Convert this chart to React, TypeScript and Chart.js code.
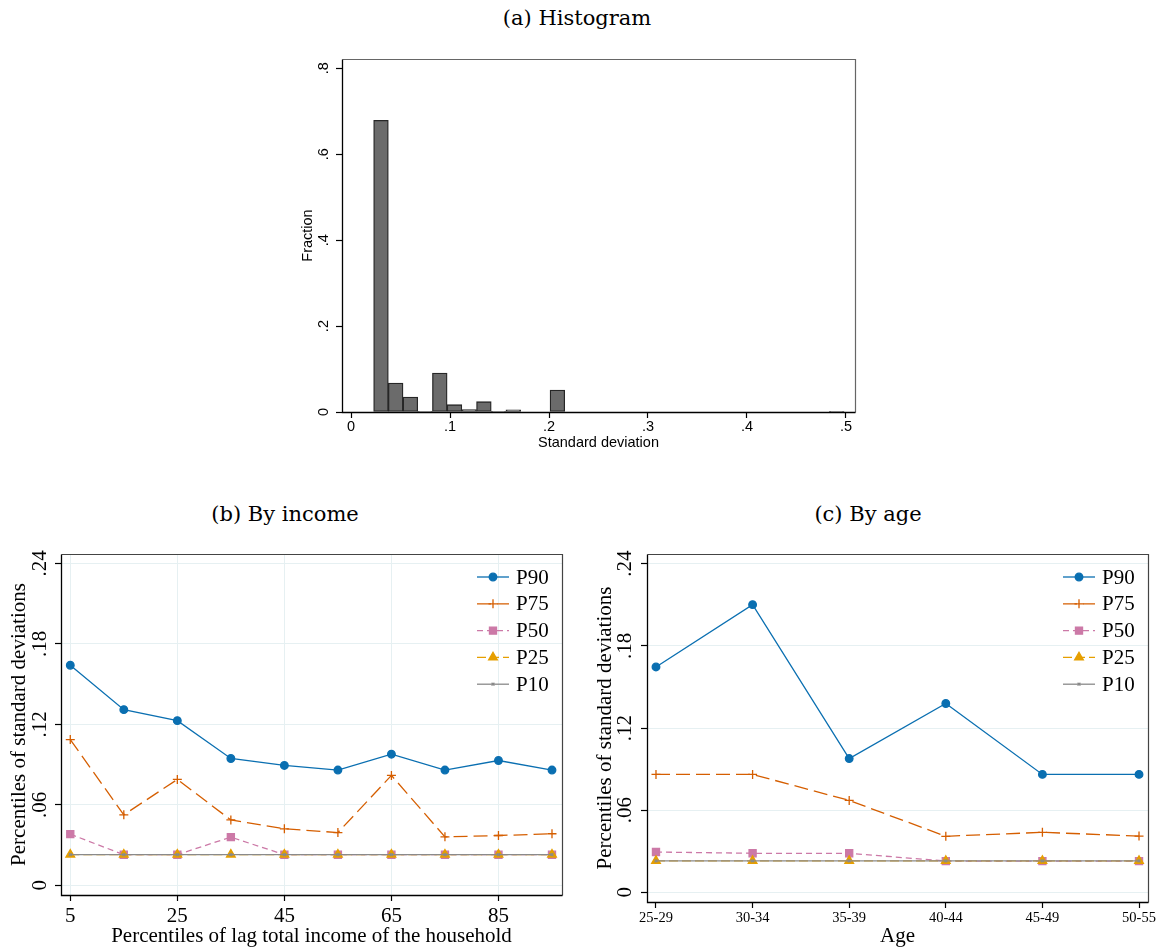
import React, { useEffect, useRef } from 'react';
import { Chart, registerables } from 'chart.js';
import { drawPoint } from 'chart.js/helpers';

Chart.register(...registerables);

// ---------------- Data ----------------
// (a) Histogram
const histBinStart = 0.02285;
const histBinWidth = 0.01485;
const histFractions = [
  0.679, 0.0674, 0.0349, 0.0015, 0.0907, 0.017, 0.0054, 0.024, 0.0015, 0.005,
  0, 0, 0.051, 0, 0, 0, 0, 0, 0, 0, 0, 0, 0, 0, 0, 0, 0, 0, 0, 0, 0, 0.0015,
];
const histXTicks = [0, 0.1, 0.2, 0.3, 0.4, 0.5];
const histYTicks = [0, 0.2, 0.4, 0.6, 0.8];

// (b) By income
const incomePercentiles = [5, 15, 25, 35, 45, 55, 65, 75, 85, 95];
const incomeXTicks = [5, 25, 45, 65, 85];
const incomeP90 = [0.164, 0.1309, 0.1227, 0.0945, 0.0893, 0.0859, 0.0977, 0.0859, 0.093, 0.0859];
const incomeP75 = [0.1086, 0.0525, 0.0789, 0.0487, 0.0421, 0.0393, 0.0819, 0.0361, 0.0371, 0.0384];
const incomeP50 = [0.0381, 0.0228, 0.0228, 0.0359, 0.0228, 0.0228, 0.0228, 0.0228, 0.0228, 0.0228];
const incomeP25 = [0.0229, 0.0229, 0.0229, 0.0229, 0.0229, 0.0229, 0.0229, 0.0229, 0.0229, 0.0229];
const incomeP10 = [0.0229, 0.0229, 0.0229, 0.0229, 0.0229, 0.0229, 0.0229, 0.0229, 0.0229, 0.0229];

// (c) By age
const ageGroups = ['25-29', '30-34', '35-39', '40-44', '45-49', '50-55'];
const ageP90 = [0.1646, 0.2101, 0.0977, 0.1379, 0.0861, 0.0861];
const ageP75 = [0.0861, 0.0861, 0.0671, 0.0409, 0.0438, 0.0411];
const ageP50 = [0.0294, 0.0285, 0.0285, 0.0228, 0.0228, 0.0228];
const ageP25 = [0.023, 0.023, 0.023, 0.023, 0.023, 0.023];
const ageP10 = [0.023, 0.023, 0.023, 0.023, 0.023, 0.023];

const pctYTicks = [0, 0.06, 0.12, 0.18, 0.24];
const seriesNames = ['P90', 'P75', 'P50', 'P25', 'P10'];

// ---------------- Styles ----------------
const seriesStyles = [
  { color: '#0a6fb1', dash: [], point: 'circle', radius: 3.8 },
  { color: '#d55e00', dash: [14, 6], point: 'cross', radius: 4.5 },
  { color: '#cc79a7', dash: [6, 4], point: 'rect', radius: 5 },
  { color: '#e69f00', dash: [9, 4], point: 'triangle', radius: 5 },
  { color: '#8a8a8a', dash: [], point: 'crossRot', radius: 2 },
];

const SERIF = "'Liberation Serif', 'Times New Roman', serif";
const SANS = "'Liberation Sans', Arial, sans-serif";
const GRID = '#e6f0f2';
const FS = 21;

const fmt = (v: number) => (v === 0 ? '0' : String(+v.toFixed(4)).replace(/^0\./, '.'));

// ---------------- Plugins ----------------
const frameLabels = {
  id: 'frameLabels',
  afterDraw(chart: any, _args: any, opts: any) {
    const { ctx, chartArea: a } = chart;
    const ys = chart.scales.y;
    ctx.save();
    ctx.font = opts.yFont;
    ctx.fillStyle = '#000';
    ctx.textAlign = 'center';
    ctx.textBaseline = 'middle';
    ys.ticks.forEach((t: any) => {
      const py = ys.getPixelForValue(t.value);
      ctx.save();
      ctx.translate(a.left - opts.yLabelOffset, py);
      ctx.rotate(-Math.PI / 2);
      ctx.fillText(fmt(t.value), 0, 0);
      ctx.restore();
    });
    const l = Math.round(a.left) + 0.5;
    const t = Math.round(a.top) + 0.5;
    const r = Math.round(a.right) + 0.5;
    const b = Math.round(a.bottom) + 0.5;
    ctx.lineWidth = 1.2;
    ctx.strokeStyle = opts.frameColor;
    ctx.beginPath();
    ctx.moveTo(l, t);
    ctx.lineTo(r, t);
    ctx.lineTo(r, b);
    ctx.stroke();
    ctx.strokeStyle = '#000';
    ctx.lineWidth = 1.3;
    ctx.beginPath();
    ctx.moveTo(l, t);
    ctx.lineTo(l, b);
    ctx.lineTo(r, b);
    ctx.stroke();
    ctx.restore();
  },
};

const seriesLegend = {
  id: 'seriesLegend',
  afterDraw(chart: any, _args: any, opts: any) {
    if (!opts || !opts.show) return;
    const { ctx, chartArea: a } = chart;
    const dsList = chart.data.datasets;
    ctx.save();
    dsList.forEach((ds: any, i: number) => {
      const y = a.top + opts.rowTop + i * opts.rowGap;
      const x0 = a.right - opts.lineStart;
      const x1 = a.right - opts.lineEnd;
      ctx.strokeStyle = ds.borderColor;
      ctx.lineWidth = ds.borderWidth;
      ctx.setLineDash(ds.borderDash || []);
      ctx.beginPath();
      ctx.moveTo(x0, y);
      ctx.lineTo(x1, y);
      ctx.stroke();
      ctx.setLineDash([]);
      ctx.fillStyle = ds.pointBackgroundColor;
      ctx.strokeStyle = ds.pointBorderColor;
      ctx.lineWidth = ds.pointBorderWidth;
      drawPoint(ctx, { pointStyle: ds.pointStyle, radius: ds.pointRadius, borderWidth: ds.pointBorderWidth, rotation: 0 } as any, (x0 + x1) / 2, y);
      ctx.fillStyle = '#000';
      ctx.font = opts.font;
      ctx.textAlign = 'left';
      ctx.textBaseline = 'middle';
      ctx.fillText(ds.label, a.right - opts.textOff, y + 1);
    });
    ctx.restore();
  },
};

function lineDatasets(xs: number[], series: number[][]) {
  return series.map((vals, i) => {
    const s = seriesStyles[i];
    return {
      type: 'line',
      label: seriesNames[i],
      data: vals.map((v, j) => ({ x: xs[j], y: v })),
      borderColor: s.color,
      backgroundColor: s.color,
      borderWidth: 1.3,
      borderDash: s.dash,
      pointStyle: s.point,
      pointRadius: s.radius,
      pointHoverRadius: s.radius,
      pointBackgroundColor: s.color,
      pointBorderColor: s.color,
      pointBorderWidth: 1.3,
      tension: 0,
      fill: false,
      order: series.length - 1 - i,
    };
  });
}

// ---------------- Configs ----------------
function histConfig(): any {
  return {
    type: 'bar',
    data: {
      datasets: [
        {
          label: 'Fraction',
          data: histFractions.map((f, i) => ({ x: histBinStart + (i + 0.5) * histBinWidth, y: f })),
          backgroundColor: '#6b6b6b',
          borderColor: '#262626',
          borderWidth: 1.3,
          borderSkipped: false,
          barPercentage: 1,
          categoryPercentage: 1,
        },
      ],
    },
    plugins: [frameLabels],
    options: {
      responsive: false,
      animation: false,
      events: [],
      layout: { padding: { left: 0, top: 19, right: 25, bottom: 0 } },
      plugins: {
        legend: { display: false },
        tooltip: { enabled: false },
        frameLabels: { yFont: `14.5px ${SANS}`, yLabelOffset: 18, frameColor: '#666' },
      },
      scales: {
        x: {
          type: 'linear',
          min: -0.0091,
          max: 0.5091,
          offset: false,
          afterBuildTicks: (s: any) => { s.ticks = histXTicks.map((v) => ({ value: v })); },
          afterFit: (s: any) => { s.height = 58; },
          ticks: { callback: (v: any) => fmt(v), font: { family: SANS, size: 14.5 }, color: '#000', padding: 0, maxRotation: 0, autoSkip: false },
          grid: { drawOnChartArea: false, offset: false, tickLength: 6, tickColor: '#000', tickWidth: 1.2 },
          border: { display: false },
          title: { display: true, text: 'Standard deviation', font: { family: SANS, size: 14.5 }, color: '#000', padding: { top: 0, bottom: 18 } },
        },
        y: {
          type: 'linear',
          min: 0,
          max: 0.8217,
          afterBuildTicks: (s: any) => { s.ticks = histYTicks.map((v) => ({ value: v })); },
          afterFit: (s: any) => { s.width = 62; },
          ticks: { display: false },
          grid: { drawOnChartArea: false, tickLength: 6, tickColor: '#000', tickWidth: 1.2 },
          border: { display: false },
          title: { display: true, text: 'Fraction', font: { family: SANS, size: 14.5 }, color: '#000', padding: { top: 19, bottom: 0 } },
        },
      },
    },
  };
}

function lineConfig(p: {
  datasets: any[];
  xMin: number; xMax: number; xTicks: number[]; xLabel: (v: number) => string;
  xFontSize: number; xTickPad: number; xGrid: boolean; xTitle: string; xTitlePad: number;
  yMin: number; yMax: number; yTitlePad: number; yLabelOffset: number;
  Wy: number; Hx: number; padding: any;
}): any {
  return {
    type: 'line',
    data: { datasets: p.datasets },
    plugins: [frameLabels, seriesLegend],
    options: {
      responsive: false,
      animation: false,
      events: [],
      layout: { padding: p.padding },
      plugins: {
        legend: { display: false },
        tooltip: { enabled: false },
        frameLabels: { yFont: `${FS}px ${SERIF}`, yLabelOffset: p.yLabelOffset, frameColor: '#444' },
        seriesLegend: { show: true, font: `${FS}px ${SERIF}`, rowTop: 23, rowGap: 26.8, lineStart: 85, lineEnd: 53, textOff: 46 },
      },
      scales: {
        x: {
          type: 'linear',
          min: p.xMin,
          max: p.xMax,
          offset: false,
          afterBuildTicks: (s: any) => { s.ticks = p.xTicks.map((v) => ({ value: v })); },
          afterFit: (s: any) => { s.height = p.Hx; },
          ticks: { callback: (v: any) => p.xLabel(v), font: { family: SERIF, size: p.xFontSize }, color: '#000', padding: p.xTickPad, maxRotation: 0, autoSkip: false },
          grid: { drawOnChartArea: p.xGrid, color: GRID, lineWidth: 1, tickLength: 6, tickColor: '#000', tickWidth: 1.2 },
          border: { display: false },
          title: { display: true, text: p.xTitle, font: { family: SERIF, size: FS }, color: '#000', padding: { top: 0, bottom: p.xTitlePad } },
        },
        y: {
          type: 'linear',
          min: p.yMin,
          max: p.yMax,
          afterBuildTicks: (s: any) => { s.ticks = pctYTicks.map((v) => ({ value: v })); },
          afterFit: (s: any) => { s.width = p.Wy; },
          ticks: { display: false },
          grid: { color: GRID, lineWidth: 1, tickLength: 6, tickColor: '#000', tickWidth: 1.2 },
          border: { display: false },
          title: { display: true, text: 'Percentiles of standard deviations', font: { family: SERIF, size: FS }, color: '#000', padding: { top: p.yTitlePad, bottom: 0 } },
        },
      },
    },
  };
}

function incomeConfig() {
  return lineConfig({
    datasets: lineDatasets(incomePercentiles, [incomeP90, incomeP75, incomeP50, incomeP25, incomeP10]),
    xMin: 3.265, xMax: 96.87, xTicks: incomeXTicks, xLabel: (v) => String(v),
    xFontSize: FS, xTickPad: 3, xGrid: true, xTitle: 'Percentiles of lag total income of the household', xTitlePad: 0,
    yMin: -0.00723, yMax: 0.2469, yTitlePad: 6.4, yLabelOffset: 21,
    Wy: 61, Hx: 54, padding: { left: 0, top: 14, right: 18, bottom: 0 },
  });
}

function ageConfig() {
  const idx = ageGroups.map((_, i) => i);
  return lineConfig({
    datasets: lineDatasets(idx, [ageP90, ageP75, ageP50, ageP25, ageP10]),
    xMin: -0.093, xMax: 5.093, xTicks: idx, xLabel: (v) => ageGroups[v] ?? '',
    xFontSize: 14.5, xTickPad: 1.3, xGrid: false, xTitle: 'Age', xTitlePad: 0,
    yMin: -0.00709, yMax: 0.2471, yTitlePad: 9.4, yLabelOffset: 22,
    Wy: 64, Hx: 47, padding: { left: 0, top: 14, right: 15, bottom: 0 },
  });
}

// ---------------- Components ----------------
function ChartBox({ box, make }: { box: { left: number; top: number; width: number; height: number }; make: () => any }) {
  const ref = useRef<HTMLCanvasElement | null>(null);
  useEffect(() => {
    if (!ref.current) return;
    const chart = new Chart(ref.current, make());
    return () => chart.destroy();
  }, []);
  return (
    <canvas
      ref={ref}
      width={box.width}
      height={box.height}
      style={{ position: 'absolute', left: box.left, top: box.top, width: box.width, height: box.height }}
    />
  );
}

const titleStyle = (cx: number, cy: number): React.CSSProperties => ({
  position: 'absolute',
  left: cx,
  top: cy,
  transform: 'translate(-50%, -50%)',
  fontFamily: "'DejaVu Serif', serif",
  fontSize: 21,
  lineHeight: 1,
  whiteSpace: 'nowrap',
  color: '#000',
});

export default function App() {
  return (
    <div style={{ position: 'absolute', left: 0, top: 0, width: 1163, height: 949, background: '#fff', overflow: 'hidden' }}>
      <div style={titleStyle(577, 18)}>(a) Histogram</div>
      <div style={titleStyle(285, 514)}>(b) By income</div>
      <div style={titleStyle(868, 514)}>(c) By age</div>
      <ChartBox box={{ left: 280, top: 40, width: 600, height: 430 }} make={histConfig} />
      <ChartBox box={{ left: 0, top: 540, width: 580, height: 409 }} make={incomeConfig} />
      <ChartBox box={{ left: 583, top: 540, width: 580, height: 409 }} make={ageConfig} />
    </div>
  );
}
